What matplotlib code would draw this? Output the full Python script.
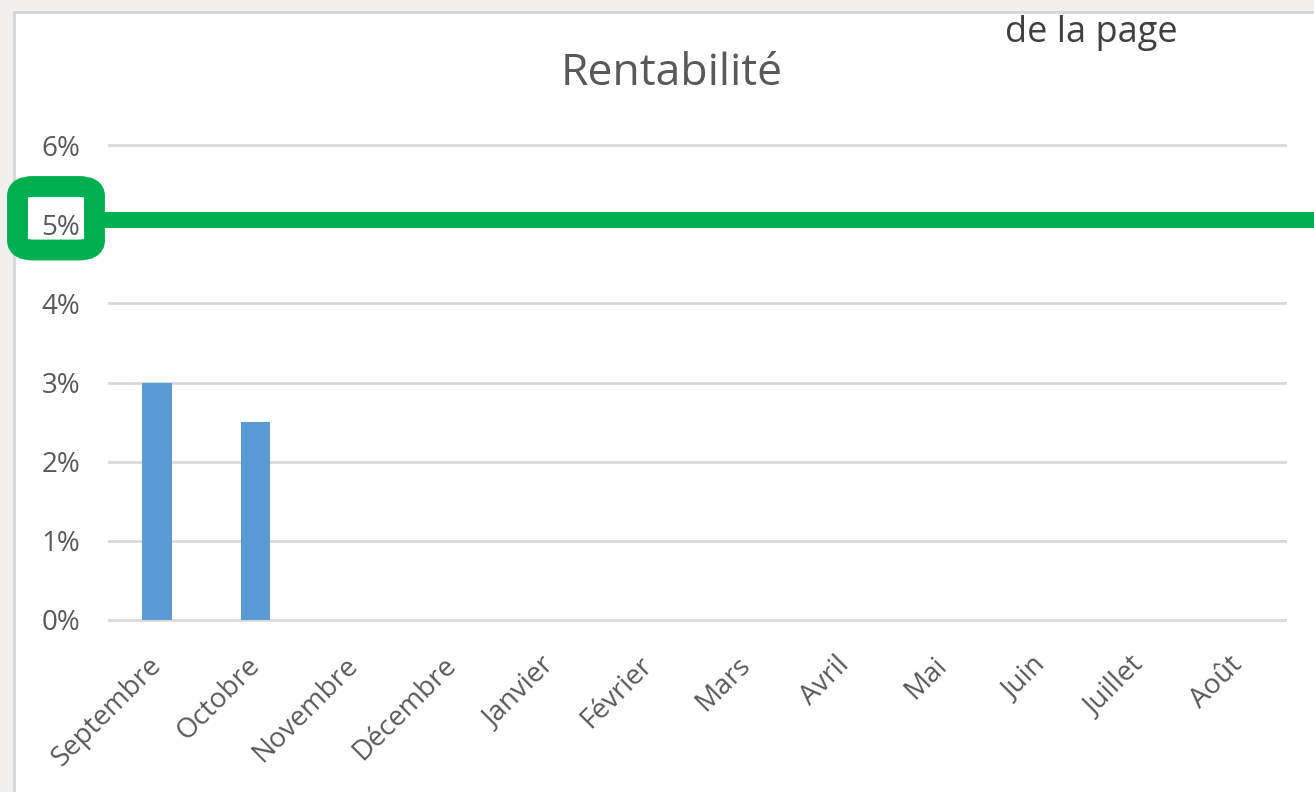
import matplotlib.pyplot as plt
from matplotlib.patches import Rectangle, FancyBboxPatch
from matplotlib.ticker import PercentFormatter

# Monthly profitability (fraction) and the 5 % target
months = ["Septembre", "Octobre", "Novembre", "Décembre", "Janvier", "Février",
          "Mars", "Avril", "Mai", "Juin", "Juillet", "Août"]
rentabilite = [0.030, 0.025, 0, 0, 0, 0, 0, 0, 0, 0, 0, 0]
objectif = 0.0505
y_ticks = [0, 0.01, 0.02, 0.03, 0.04, 0.05, 0.06]

W, H = 1314, 792
plt.rcParams['font.family'] = ['Open Sans', 'DejaVu Sans']

fig = plt.figure(figsize=(W / 100, H / 100), dpi=100, facecolor='#f1f0ee')


def fx(px):
    return px / W


def fy(py):
    return 1 - py / H


# white chart panel
fig.patches.append(Rectangle((fx(14), fy(800)), fx(1320) - fx(14), fy(12) - fy(800),
                             transform=fig.transFigure, facecolor='white',
                             edgecolor='#d6d6d6', linewidth=2, zorder=-10))

# plot area: 0 % at y=620 px, 6 % at y=145 px
per_unit = (620 - 145) / 0.06
ymin, ymax = -0.001, 0.061
ax_bottom = 620 + (0 - ymin) * per_unit
ax_top = 145 - (ymax - 0.06) * per_unit
ax = fig.add_axes([fx(108), fy(ax_bottom), fx(1287) - fx(108), fy(ax_top) - fy(ax_bottom)])
ax.set_facecolor('none')

x = range(len(months))
ax.bar(x, rentabilite, width=0.3, color='#5b9bd5', zorder=2)

ax.set_xlim(-0.5, len(months) - 0.5)
ax.set_ylim(ymin, ymax)
ax.set_yticks(y_ticks)
ax.yaxis.set_major_formatter(PercentFormatter(1.0, decimals=0))
ax.grid(axis='y', color='#d9d9d9', linewidth=2, zorder=1)
ax.set_axisbelow(True)
for s in ax.spines.values():
    s.set_visible(False)

ax.set_xticks(list(x))
ax.set_xticklabels(months, rotation=45, ha='right', va='center', rotation_mode='anchor')
ax.tick_params(axis='x', length=0, pad=24, labelsize=20, labelcolor='#595959')
ax.tick_params(axis='y', length=0, pad=20, labelsize=20, labelcolor='#595959')

fig.text(fx(672), fy(85), "Rentabilité", fontsize=32, color='#595959',
         ha='center', va='baseline')

# target line running past the right edge
ax.axhline(objectif, xmin=(103 - 108) / 1179, xmax=(1320 - 108) / 1179,
           color='#00b050', linewidth=11.5, clip_on=False, zorder=3)

# highlight around the 5 % label
fig.patches.append(FancyBboxPatch((fx(17.5), fy(250)), fx(94.5) - fx(17.5), fy(186.5) - fy(250),
                                  boxstyle='round,pad=0,rounding_size=0.012',
                                  transform=fig.transFigure, facecolor='none',
                                  edgecolor='#00b050', linewidth=15, zorder=5))

fig.text(fx(1005), fy(42), "de la page", fontsize=26, color='#404040', ha='left', va='baseline')

fig.savefig('out.png', dpi=100, facecolor=fig.get_facecolor())
